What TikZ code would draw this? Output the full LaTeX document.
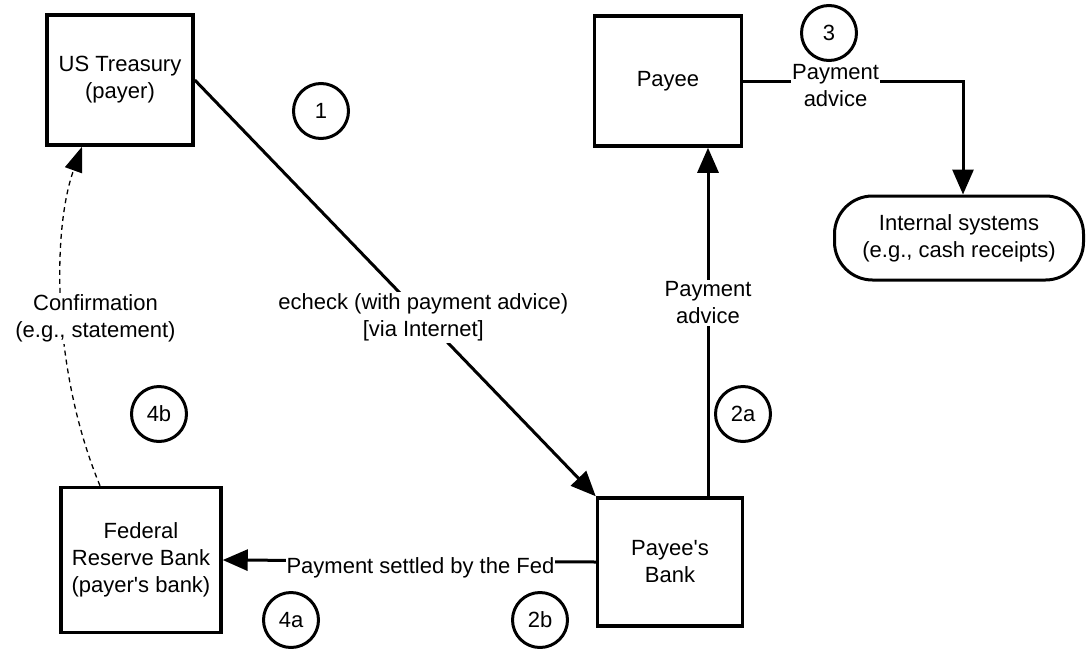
\documentclass[tikz,border=0pt]{standalone}
\usepackage{fontspec}
\setmainfont{Liberation Sans}
\usetikzlibrary{arrows.meta,positioning}
\tikzset{
  entity/.style={draw, line width=3.5pt, align=center, inner sep=2pt},
  stepnum/.style={draw, circle, line width=3pt, minimum size=55pt, inner sep=0pt},
  flow/.style={line width=3pt, -{Triangle[length=25pt,width=21pt]}},
  confirm/.style={line width=1.3pt, dash pattern=on 5pt off 4pt, -{Triangle[length=25pt,width=18pt]}},
  lbl/.style={fill=white, align=center, inner sep=2pt}
}

\begin{document}
\begin{tikzpicture}[x=1pt, y=-1pt, font=\fontsize{22}{27}\selectfont]
    \useasboundingbox (0,0) rectangle (1086,648);

    % Parties
    \node[entity, minimum width=146pt, minimum height=130pt] (treasury) at (120,80) {US Treasury\\(payer)};
    \node[entity, minimum width=147pt, minimum height=130pt] (payee) at (668,81) {Payee};
    \node[entity, minimum width=160pt, minimum height=145pt] (fed) at (141,560) {Federal\\Reserve Bank\\(payer\textquotesingle s bank)};
    \node[entity, minimum width=145pt, minimum height=128pt] (bank) at (670,562) {Payee\textquotesingle s\\Bank};
    \node[entity, line width=3pt, rounded corners=38pt, minimum width=249pt, minimum height=84pt] (internal) at (959,238) {Internal systems\\(e.g., cash receipts)};

    % Flows
    \draw[flow] (treasury.east) -- (bank.north west)
        node[lbl, pos=0.57] {echeck (with payment advice)\\{}[via Internet]};
    \draw[flow] ([xshift=38pt]bank.north) -- ([xshift=38pt]bank.north |- payee.south)
        node[lbl, pos=0.555] {Payment\\advice};
    \draw[flow] (payee.east) -| ([xshift=4pt]internal.north)
        node[lbl, pos=0.21, yshift=-5pt, inner sep=1pt] {Payment\\advice};
    \draw[flow] (bank.west) -- (fed.east)
        node[lbl, pos=0.47, yshift=-7pt, inner sep=1pt] {Payment settled by the Fed};

    % Confirmation back to the payer
    \draw[confirm] ([xshift=-41pt]fed.north) .. controls (52,370) and (52,230) .. ([xshift=-38pt]treasury.south)
        node[lbl, pos=0.46, xshift=33pt] {Confirmation\\(e.g., statement)};

    % Step numbers
    \node[stepnum] (s1) at (321,111) {1};
    \node[stepnum] (s3) at (829,33) {3};
    \node[stepnum] (s2a) at (743,414) {2a};
    \node[stepnum] (s4b) at (159,414) {4b};
    \node[stepnum] (s4a) at (291,620) {4a};
    \node[stepnum] (s2b) at (540,620) {2b};
\end{tikzpicture}
\end{document}
